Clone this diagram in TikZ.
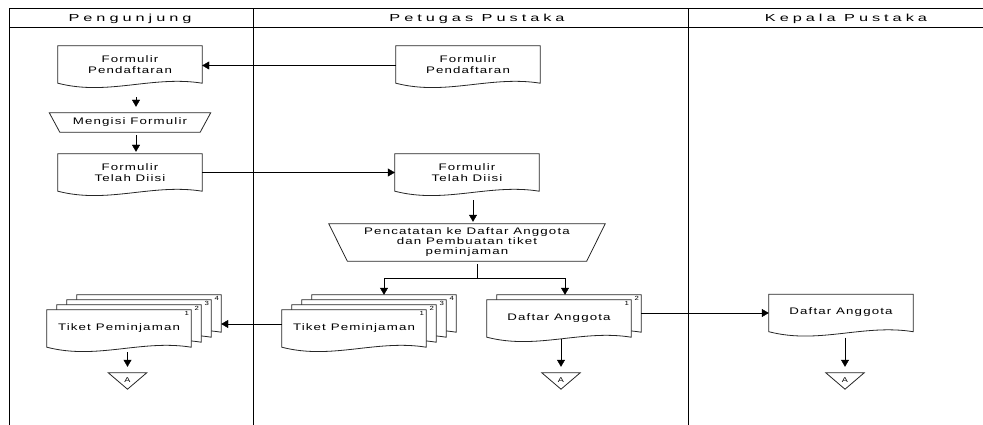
\documentclass[tikz,border=0pt]{standalone}
\usepackage{fontspec}
\usetikzlibrary{calc, arrows.meta}
\newfontfamily\flowfam[FakeStretch=1.4, LetterSpace=12]{Liberation Sans}
\newfontfamily\lanefam[FakeStretch=1.6, LetterSpace=39]{Liberation Sans}
\newfontfamily\plainfam[FakeStretch=1.3]{Liberation Sans}
\pgfdeclarelayer{bg}
\pgfsetlayers{bg,main}

% document page, shifted by (#2,#3) from node #1
\newcommand\docpage[3]{%
  \filldraw[docline, fill=white] ($(#1.north west)+(#2,#3)$) -- ($(#1.north east)+(#2,#3)$)
    -- ($(#1.south east)+(#2,#3)$) .. controls +(-50,-8) and +(50,13) .. ($(#1.south west)+(#2,#3)$) -- cycle;}
% manual operation, top wider by #2 each side
\newcommand\manualop[2]{%
  \draw[docline] ($(#1.north west)+(-#2,0)$) -- ($(#1.north east)+(#2,0)$)
    -- (#1.south east) -- (#1.south west) -- cycle;}
% off-page connector
\newcommand\offpage[1]{%
  \draw[docline] (#1.north west) -- (#1.north east) -- (#1.south) -- cycle;}

\begin{document}
\begin{tikzpicture}[x=1pt, y=-1pt, >={Triangle[length=7pt,width=8pt]},
  frame/.style={line width=1pt},
  docline/.style={line width=0.8pt, black!85},
  lanetext/.style={font=\lanefam\fontsize{10.2}{12}\selectfont, inner sep=0pt},
  docbox/.style={minimum width=144pt, minimum height=37pt, inner sep=0pt, align=center,
    font=\flowfam\fontsize{9.5}{11.5}\selectfont},
  opbox/.style={inner sep=0pt, align=center, font=\flowfam\fontsize{9.5}{10}\selectfont},
  offbox/.style={minimum width=38pt, minimum height=16pt, inner sep=0pt,
    font=\plainfam\fontsize{7}{7}\selectfont},
  pagenum/.style={inner sep=0pt, font=\plainfam\fontsize{6}{6}\selectfont}]
\useasboundingbox (0,0) rectangle (983,425);

% swimlanes
\draw[frame] (9,9) -- (983,9);
\draw[frame] (9,28) -- (983,28);
\foreach \x in {9,253,688}
  \draw[frame] (\x,9) -- (\x,425);
\node[lanetext] (lane1) at (130,18.5) {Pengunjung};
\node[lanetext] (lane2) at (477,18.5) {Petugas Pustaka};
\node[lanetext] (lane3) at (846,18.5) {Kepala Pustaka};

% nodes
\node[docbox] (formP) at (130,64.5) {Formulir\\Pendaftaran};
\node[docbox] (formT) at (468,64.5) {Formulir\\Pendaftaran};
\node[opbox, minimum width=140pt, minimum height=19pt] (isi) at (130,122.5) {Mengisi Formulir};
\node[docbox] (isiP) at (130,172.5) {Formulir\\Telah Diisi};
\node[docbox] (isiT) at (467,172.5) {Formulir\\Telah Diisi};
\node[opbox, minimum width=239pt, minimum height=37pt] (catat) at (467,242.5)
  {Pencatatan ke Daftar Anggota\\dan Pembuatan tiket\\peminjaman};
\node[docbox] (tiketT) at (354,328.5) {Tiket Peminjaman};
\node[docbox] (tiketP) at (119,328.5) {Tiket Peminjaman};
\node[docbox] (daftarT) at (559,318.5) {Daftar Anggota};
\node[docbox] (daftarK) at (841,313) {\raisebox{3pt}{Daftar Anggota}};
\node[offbox] (offP) at (127.5,381) {\raisebox{2pt}{A}};
\node[offbox] (offT) at (561,381) {\raisebox{2pt}{A}};
\node[offbox] (offK) at (845,381) {\raisebox{2pt}{A}};

% shapes
\begin{pgfonlayer}{bg}
\foreach \n in {formP,formT,isiP,isiT,daftarK} {\docpage{\n}{0}{0}}
\foreach \k in {3,2,1,0} {
  \docpage{tiketT}{10*\k}{-5*\k}
  \docpage{tiketP}{10*\k}{-5*\k}
}
\foreach \k in {1,0} {\docpage{daftarT}{10*\k}{-5*\k}}
\end{pgfonlayer}
\foreach \k [evaluate=\k as \num using int(\k+1)] in {0,...,3} {
  \node[pagenum] (tiketT-\num) at ($(tiketT.north east)+({10*\k-4.5},{3.5-5*\k})$) {\num};
  \node[pagenum] (tiketP-\num) at ($(tiketP.north east)+({10*\k-4.5},{3.5-5*\k})$) {\num};
}
\foreach \k [evaluate=\k as \num using int(\k+1)] in {0,1}
  \node[pagenum] (daftarT-\num) at ($(daftarT.north east)+({10*\k-4.5},{3.5-5*\k})$) {\num};
\manualop{isi}{10.5}
\manualop{catat}{18.5}
\foreach \n in {offP,offT,offK} {\offpage{\n}}

% flows
\draw[->] ([yshift=-1pt]formT.west) -- ([yshift=-1pt]formP.east);
\draw[->] ([shift={(6,14)}]formP.south) -- ([shift={(6,-6)}]isi.north);
\draw[->] ([shift={(6,3)}]isi.south) -- ([shift={(6,-2)}]isiP.north);
\draw[->] (isiP.east) -- (isiT.west);
\draw[->] ([shift={(6,9)}]isiT.south) -- ([shift={(6,-2)}]catat.north);
\coordinate (split) at ([shift={(10,17)}]catat.south);
\draw ([shift={(10,3)}]catat.south) -- (split);
\draw[->] (split) -| ([shift={(30,-15)}]tiketT.north);
\draw[->] (split) -| ([shift={(6,-5)}]daftarT.north);
\draw[->] ([shift={(0,-4.5)}]tiketT.west) -- ([shift={(30,-4.5)}]tiketP.east);
\draw[->] ([shift={(10,-5.5)}]daftarT.east) -- (daftarK.west);
\draw[->] ([shift={(8.5,5)}]tiketP.south) -- ([shift={(0,-6)}]offP.north);
\draw[->] ([shift={(2,2)}]daftarT.south) -- ([shift={(0,-6)}]offT.north);
\draw[->] ([shift={(4,6)}]daftarK.south) -- ([shift={(0,-6)}]offK.north);
\end{tikzpicture}
\end{document}
